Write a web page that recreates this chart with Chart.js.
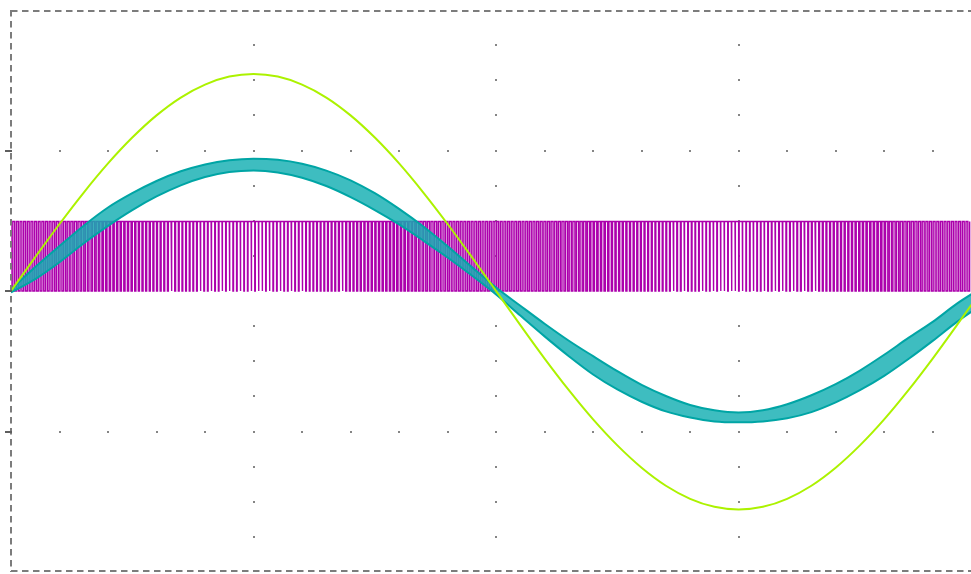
<!DOCTYPE html>
<html>
<head>
<meta charset="utf-8">
<script src="https://cdn.jsdelivr.net/npm/chart.js@4.4.1/dist/chart.umd.min.js"></script>
<style>
  html, body { margin: 0; padding: 0; background: #ffffff; }
  #wrap { width: 971px; height: 574px; position: relative; }
</style>
</head>
<body>
<div id="wrap"><canvas id="c" width="971" height="574"></canvas></div>
<script>
// ---- time axis (ms), 5 ms / division ----
const sampleTimesMs = [0,0.5,1,1.5,2,2.5,3,3.5,4,4.5,5,5.5,6,6.5,7,7.5,8,8.5,9,9.5,
  10,10.5,11,11.5,12,12.5,13,13.5,14,14.5,15,15.5,16,16.5,17,17.5,18,18.5,19,19.5,20];

// ---- grid voltage trace (divisions) ----
const gridVoltage = [0,0.241,0.477,0.701,0.908,1.092,1.250,1.377,1.469,1.526,1.545,
  1.526,1.469,1.377,1.250,1.092,0.908,0.701,0.477,0.241,0,
  -0.243,-0.481,-0.706,-0.914,-1.099,-1.258,-1.386,-1.479,-1.536,-1.555,
  -1.536,-1.479,-1.386,-1.258,-1.099,-0.914,-0.706,-0.481,-0.243,0];

// ---- inductor current ripple band: upper / lower envelope (divisions) ----
const currentUpper = [0.01,0.17,0.32,0.465,0.594,0.696,0.783,0.852,0.901,0.931,0.942,
  0.934,0.906,0.857,0.788,0.696,0.584,0.459,0.318,0.17,0.025,
  -0.105,-0.233,-0.354,-0.464,-0.571,-0.668,-0.747,-0.811,-0.849,-0.865,
  -0.849,-0.806,-0.742,-0.663,-0.566,-0.454,-0.334,-0.22,-0.09,0.02];
const currentLower = [-0.01,0.085,0.205,0.34,0.464,0.576,0.673,0.752,0.811,0.847,0.858,
  0.844,0.806,0.747,0.668,0.576,0.474,0.359,0.238,0.11,-0.025,
  -0.175,-0.323,-0.464,-0.594,-0.701,-0.788,-0.857,-0.901,-0.929,-0.935,
  -0.929,-0.906,-0.862,-0.793,-0.706,-0.604,-0.484,-0.355,-0.22,-0.10];

// ---- gate (PWM) signal: slot length and low-time per slot (µs) ----
const gateSlotMs = 0.075;
const gateHigh = 0.495;
const gateLowUs = [
  37,37,37,37,37,37,37,37,37,36, 36,36,35,35,35,34,34,33,33,33,
  32,32,31,31,30,29,29,28,28,27, 26,26,25,25,24,23,23,22,22,21,
  20,20,19,19,18,18,17,16,16,16, 15,15,14,14,14,13,13,13,12,12,
  12,12,12,11,11,11,11,11,11,11, 11,12,12,12,12,12,13,13,13,14,
  14,14,15,15,16,16,17,17,18,18, 19,19,20,20,21,22,22,23,23,24,
  25,25,26,26,27,28,28,29,29,30, 31,31,32,32,33,33,34,34,34,35,
  35,36,36,36,36,37,37,37,37,37, 37,37,37,37,
  37,37,37,37,37,37,37,37,36,36, 36,35,35,35,34,34,34,33,33,32,
  32,31,31,30,30,29,28,28,27,27, 26,25,25,24,23,23,22,22,21,20,
  20,19,19,18,18,17,17,16,16,15, 15,14,14,14,13,13,13,12,12,12,
  12,11,11,11,11,11,11,11,11,12, 12,12,12,12,13,13,13,14,14,14,
  15,15,16,16,17,17,17,18,18,19, 19,20,21,21,22,22,23,24,24,25,
  25,26,27,27,28,29,29,30,30,31, 31,32,32,33,33,34,34,35,35,35,
  36,36,36,36,37,37,37,37,37,37];

// ---- graticule positions ----
const majorTimesMs = [5,10,15];
const minorTimesMs = [1,2,3,4,5,6,7,8,9,10,11,12,13,14,15,16,17,18,19];
const majorLevels = [-1,1];
const minorLevels = [-1.75,-1.5,-1.25,-1,-0.75,-0.5,-0.25,0.25,0.5,0.75,1,1.25,1.5,1.75];
const leftTickLevels = [-1,0,1];

// build library tables
const toXY = (vals) => vals.map((v, i) => ({x: sampleTimesMs[i], y: v}));
const gatePoints = [];
gateLowUs.forEach((w, k) => {
  const t0 = k * gateSlotMs;
  const t1 = t0 + w / 1000;
  gatePoints.push({x: t0, y: gateHigh}, {x: t0, y: 0}, {x: t1, y: 0}, {x: t1, y: gateHigh});
});

const scopeFrame = {
  id: 'scopeFrame',
  beforeDatasetsDraw(chart) {
    const {ctx, scales: {x, y}} = chart;
    ctx.save();
    ctx.fillStyle = '#858585';
    const dot = (px, py) => ctx.fillRect(Math.round(px) - 1, Math.round(py) - 1, 2, 2);
    majorTimesMs.forEach(t => {
      minorLevels.forEach(v => dot(x.getPixelForValue(t), y.getPixelForValue(v)));
    });
    majorLevels.forEach(v => {
      minorTimesMs.forEach(t => dot(x.getPixelForValue(t), y.getPixelForValue(v)));
    });
    ctx.restore();
  },
  afterDatasetsDraw(chart) {
    const {ctx, chartArea: a, scales: {y}} = chart;
    ctx.save();
    ctx.strokeStyle = '#7c7c7c';
    ctx.lineWidth = 2;
    ctx.setLineDash([6.5, 4.5]);
    ctx.beginPath();
    ctx.moveTo(a.left, a.top + 1); ctx.lineTo(a.right, a.top + 1);
    ctx.moveTo(a.left, a.top); ctx.lineTo(a.left, a.bottom);
    ctx.moveTo(a.left, a.bottom - 1); ctx.lineTo(a.right, a.bottom - 1);
    ctx.stroke();
    ctx.setLineDash([]);
    ctx.strokeStyle = '#5e5e5e';
    ctx.lineWidth = 2;
    leftTickLevels.forEach(v => {
      const py = Math.round(y.getPixelForValue(v));
      ctx.beginPath();
      ctx.moveTo(a.left - 6, py); ctx.lineTo(a.left + 1, py);
      ctx.stroke();
    });
    ctx.restore();
  }
};

new Chart(document.getElementById('c'), {
  type: 'line',
  data: {
    datasets: [
      {
        label: 'Gate',
        data: gatePoints,
        borderColor: 'rgb(172,0,172)',
        borderWidth: 1.4,
        pointRadius: 0,
        tension: 0,
        fill: false,
        order: 4
      },
      {
        label: 'Current upper',
        data: toXY(currentUpper),
        borderColor: 'rgb(0,165,165)',
        backgroundColor: 'rgba(20,175,178,0.82)',
        borderWidth: 2,
        pointRadius: 0,
        cubicInterpolationMode: 'monotone',
        fill: '+1',
        order: 3
      },
      {
        label: 'Current lower',
        data: toXY(currentLower),
        borderColor: 'rgb(0,165,165)',
        borderWidth: 2,
        pointRadius: 0,
        cubicInterpolationMode: 'monotone',
        fill: false,
        order: 2
      },
      {
        label: 'Voltage',
        data: toXY(gridVoltage),
        borderColor: 'rgb(172,242,0)',
        borderWidth: 2,
        pointRadius: 0,
        cubicInterpolationMode: 'monotone',
        fill: false,
        order: 1
      }
    ]
  },
  options: {
    responsive: false,
    animation: false,
    devicePixelRatio: 1,
    parsing: false,
    normalized: true,
    layout: { padding: { left: 11, top: 10, right: 0, bottom: 2 } },
    plugins: { legend: { display: false }, tooltip: { enabled: false } },
    scales: {
      x: { type: 'linear', min: 0, max: 19.79, display: false },
      y: { type: 'linear', min: -2, max: 2, display: false }
    }
  },
  plugins: [scopeFrame]
});
</script>
</body>
</html>
